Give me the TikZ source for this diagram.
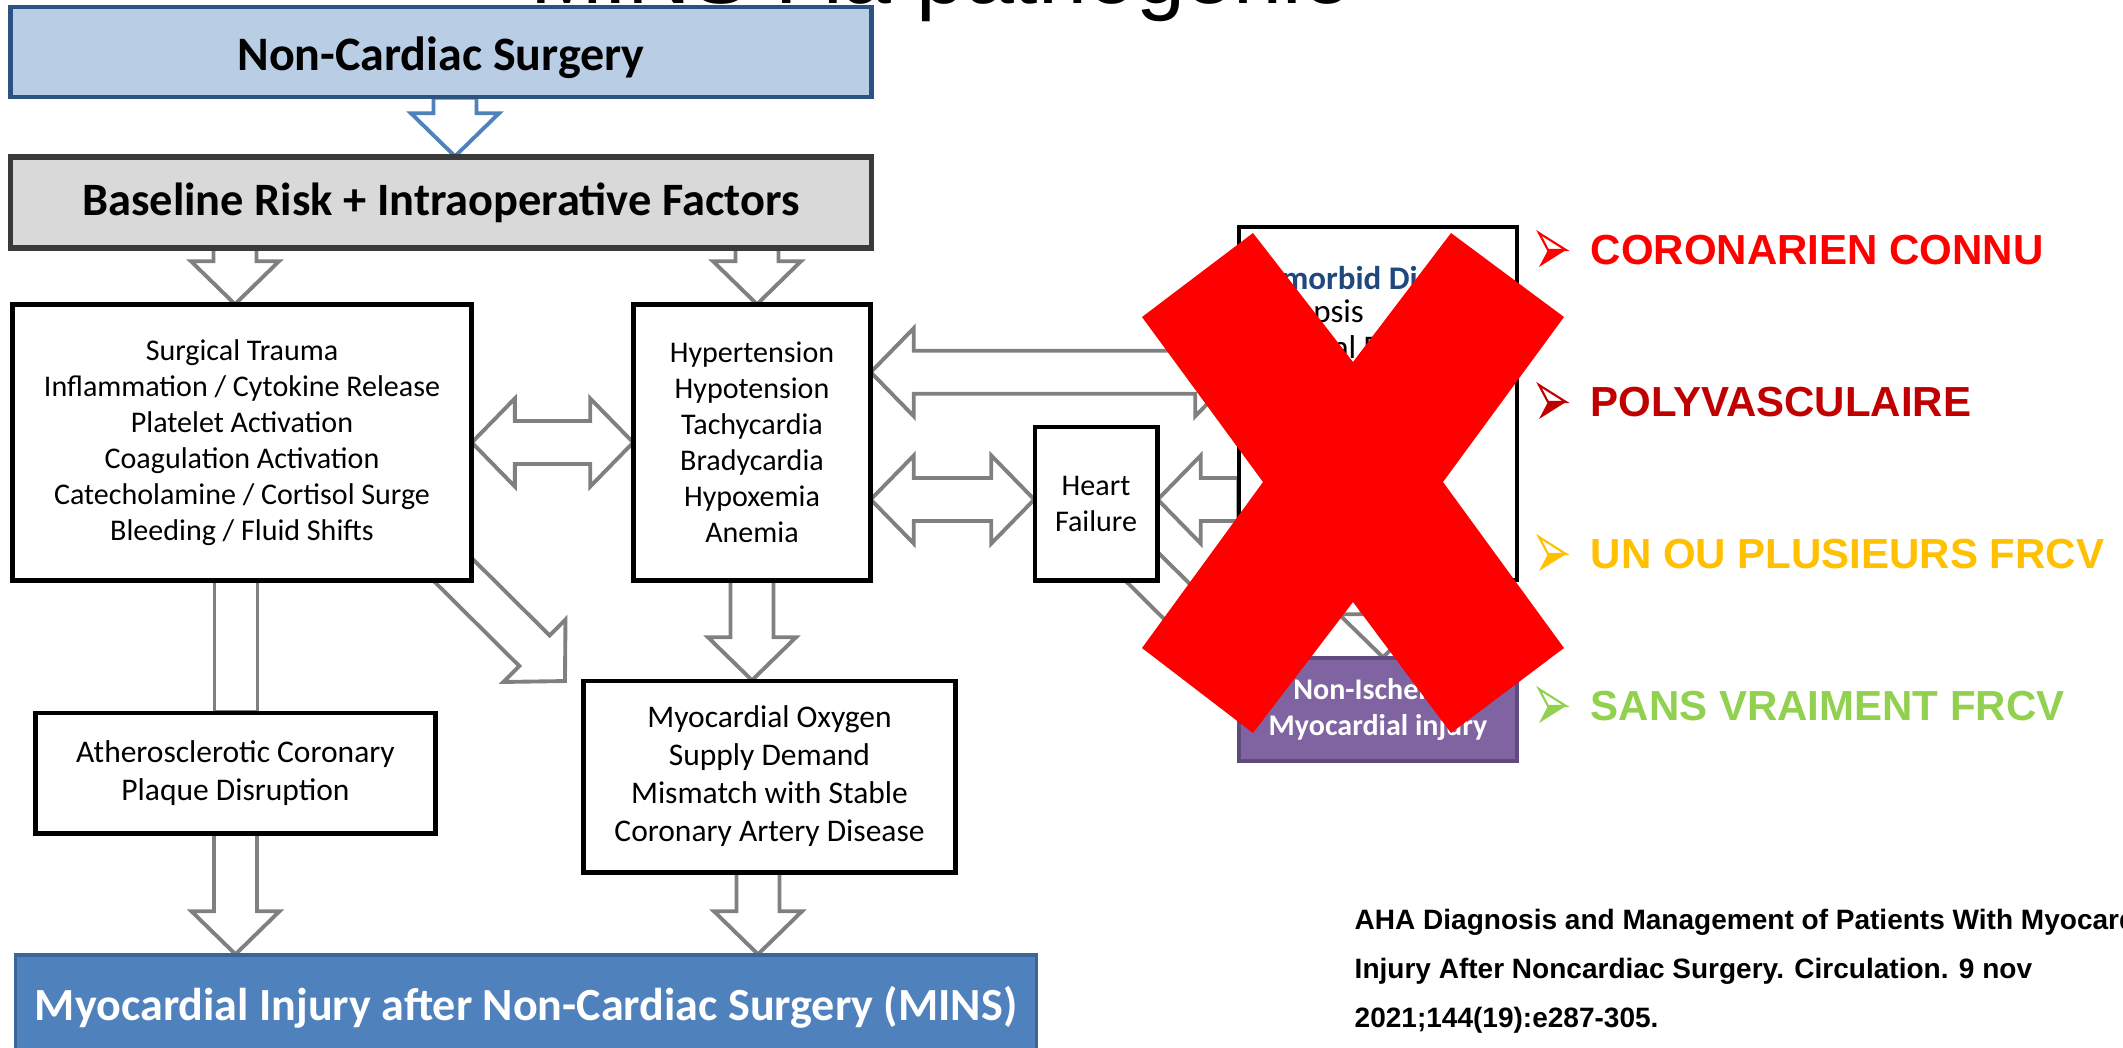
\documentclass[tikz,border=0pt]{standalone}
\usepackage{fontspec}
\setmainfont{Carlito}
\newfontfamily\arialf{Liberation Sans}
\usetikzlibrary{calc}

\definecolor{ncsfill}{HTML}{B9CDE5}
\definecolor{ncsdraw}{HTML}{2C5283}
\definecolor{basefill}{HTML}{D9D9D9}
\definecolor{basedraw}{HTML}{3A3A3A}
\definecolor{arrgray}{HTML}{808080}
\definecolor{arrblue}{HTML}{4F81BD}
\definecolor{minsfill}{HTML}{4F81BD}
\definecolor{minsdraw}{HTML}{3C6699}
\definecolor{purpfill}{HTML}{8064A2}
\definecolor{purpdraw}{HTML}{5E4A7C}
\definecolor{comhead}{HTML}{1F497D}
\definecolor{xred}{HTML}{FF0000}
\definecolor{lred}{HTML}{FF0000}
\definecolor{ldred}{HTML}{C00000}
\definecolor{lgold}{HTML}{FFC000}
\definecolor{lgreen}{HTML}{92D050}

\newcommand\bsw{6.12pt}
\newcommand\bhw{12.52pt}
\newcommand\bhl{12.23pt}

\newcommand\getvecx[2]{%
  \path let \p1=#1, \p2=#2 in \pgfextra{%
    \pgfmathsetmacro\gvtmpA{atan2(\y2-\y1,\x2-\x1)}%
    \pgfmathsetmacro\gvtmpL{veclen(\x2-\x1,\y2-\y1)}%
    \xdef\gvA{\gvtmpA}\xdef\gvL{\gvtmpL}%
    \xdef\gvX{\x1}\xdef\gvY{\y1}};}

\newcommand\blkarrow[3][]{%
  \getvecx{#2}{#3}%
  \draw[#1, shift={(\gvX,\gvY)}, rotate=\gvA]
    (0pt,\bsw) -- (\gvL pt-\bhl,\bsw) -- (\gvL pt-\bhl,\bhw) -- (\gvL pt,0pt)
    -- (\gvL pt-\bhl,-\bhw) -- (\gvL pt-\bhl,-\bsw) -- (0pt,-\bsw) -- cycle;}

\newcommand\dblkarrow[3][]{%
  \getvecx{#2}{#3}%
  \draw[#1, shift={(\gvX,\gvY)}, rotate=\gvA]
    (0pt,0pt) -- (\bhl,\bhw) -- (\bhl,\bsw) -- (\gvL pt-\bhl,\bsw) -- (\gvL pt-\bhl,\bhw)
    -- (\gvL pt,0pt) -- (\gvL pt-\bhl,-\bhw) -- (\gvL pt-\bhl,-\bsw) -- (\bhl,-\bsw)
    -- (\bhl,-\bhw) -- cycle;}

\newcommand\blkshaft[3][]{%
  \getvecx{#2}{#3}%
  \draw[#1, shift={(\gvX,\gvY)}, rotate=\gvA]
    (0pt,\bsw) -- (\gvL pt,\bsw) -- (\gvL pt,-\bsw) -- (0pt,-\bsw) -- cycle;}

\newcommand\listbullet[3]{%
  \begin{scope}[shift={(#1,#2)}]
    \filldraw[fill=white, draw=#3, line width=0.6pt, line join=miter] (-13,-17) -- (14,0) -- (-4,0) -- cycle;
    \fill[#3] (-4,0) -- (14,0) -- (-13,17) -- cycle;
  \end{scope}}

\tikzset{
  boxbase/.style={draw=black, line width=1.4pt, fill=white, inner sep=0pt, align=center},
  topbox/.style={boxbase, font=\fontsize{8.54pt}{10.24pt}\selectfont},
  lowbox/.style={boxbase, font=\fontsize{8.96pt}{10.81pt}\selectfont},
  bluebox/.style={draw=ncsdraw, line width=1.3pt, fill=ncsfill, inner sep=0pt, font=\bfseries\fontsize{13.66pt}{16pt}\selectfont},
  graybox/.style={draw=basedraw, line width=1.5pt, fill=basefill, inner sep=0pt, font=\bfseries\fontsize{13.2pt}{16pt}\selectfont},
  minsbox/.style={draw=minsdraw, line width=1pt, fill=minsfill, text=white, inner sep=0pt, font=\bfseries\fontsize{13.1pt}{16pt}\selectfont},
  purpbox/.style={draw=purpdraw, line width=1pt, fill=purpfill, text=white, inner sep=0pt, align=center, font=\bfseries\fontsize{8.54pt}{10.5pt}\selectfont},
  comtxt/.style={inner sep=0pt, font=\fontsize{9.39pt}{10.24pt}\selectfont},
  garr/.style={draw=arrgray, line width=1.1pt, fill=white, line join=miter},
  barr/.style={draw=arrblue, line width=1.1pt, fill=white, line join=miter},
  listtxt/.style={anchor=west, inner sep=0pt, font=\arialf\bfseries\fontsize{11.95pt}{14pt}\selectfont},
  reftxt/.style={anchor=base west, inner sep=0pt, font=\arialf\bfseries\fontsize{7.97pt}{9pt}\selectfont},
}

\begin{document}
\begin{tikzpicture}[x=0.01cm,y=-0.01cm]
\useasboundingbox (0,0) rectangle (2123,1047);
\fill[white] (0,0) rectangle (2123,1047);

% cut-off title
\node[anchor=base east, inner sep=0pt, font=\arialf\fontsize{25pt}{30pt}\selectfont] (title) at (1352,3) {MINS : la pathogénie};

% anchor nodes for the boxes (drawn later)
\path
  node[minimum width=8.6cm, minimum height=0.9cm, inner sep=0pt] (ncs) at (441,52) {}
  node[minimum width=8.6cm, minimum height=0.91cm, inner sep=0pt] (base) at (441,202.5) {}
  node[minimum width=4.58cm, minimum height=2.75cm, inner sep=0pt] (lbox) at (242,442.5) {}
  node[minimum width=2.36cm, minimum height=2.75cm, inner sep=0pt] (mbox) at (752,442.5) {}
  node[minimum width=1.22cm, minimum height=1.53cm, inner sep=0pt] (heart) at (1096,503.5) {}
  node[minimum width=2.78cm, minimum height=3.53cm, inner sep=0pt] (comorbid) at (1378,403.5) {}
  node[minimum width=2.78cm, minimum height=1.03cm, inner sep=0pt] (purple) at (1378,709.5) {}
  node[minimum width=3.99cm, minimum height=1.20cm, inner sep=0pt] (athero) at (235.5,773) {}
  node[minimum width=3.71cm, minimum height=1.91cm, inner sep=0pt] (o2) at (769.5,776.5) {}
  node[minimum width=10.2cm, minimum height=1.05cm, inner sep=0pt] (mins) at (526,1007.5) {};

% arrows
\blkarrow[barr]{($(ncs.south)+(14,0)$)}{($(base.north)+(14,0)$)}
\blkarrow[garr]{($(base.south -| lbox.north)+(-7,0)$)}{($(lbox.north)+(-7,0)$)}
\blkarrow[garr]{($(base.south -| mbox.north)+(5,0)$)}{($(mbox.north)+(5,0)$)}
\dblkarrow[garr]{(lbox.east)}{(mbox.west)}
\dblkarrow[garr]{($(mbox.north east)+(0,68)$)}{($(comorbid.north west)+(0,146)$)}
\dblkarrow[garr]{($(mbox.east |- heart.west)+(0,-4)$)}{($(heart.west)+(0,-4)$)}
\blkarrow[garr]{($(comorbid.west |- heart.east)+(0,-4)$)}{($(heart.east)+(0,-4)$)}
\blkshaft[garr]{($(lbox.south)+(-6,0)$)}{($(athero.north)+(0.5,0)$)}
\blkarrow[garr]{(athero.south)}{(athero.south |- mins.north)}
\blkarrow[garr]{(mbox.south)}{(mbox.south |- o2.north)}
\blkarrow[garr]{($(o2.south)+(-11.5,0)$)}{($(o2.south |- mins.north)+(-11.5,0)$)}
\blkarrow[garr]{($(lbox.south east)+(-41,-33)$)}{($(o2.north west)+(-18,1)$)}
\blkarrow[garr]{($(heart.south east)+(-37,-35)$)}{($(purple.north west)+(-3,2)$)}
\blkarrow[garr]{($(comorbid.south)+(5,0)$)}{($(purple.north)+(5,0)$)}

% visible boxes
\node[bluebox, minimum width=8.6cm, minimum height=0.9cm, text height=13pt, text depth=2.7pt] at (ncs) {Non-Cardiac Surgery};
\node[graybox, minimum width=8.6cm, minimum height=0.91cm] at (base) {Baseline Risk + Intraoperative Factors};
\node[topbox, minimum width=4.58cm, minimum height=2.75cm] at (lbox) {Surgical Trauma\\Inflammation / Cytokine Release\\Platelet Activation\\Coagulation Activation\\Catecholamine / Cortisol Surge\\Bleeding / Fluid Shifts};
\node[topbox, minimum width=2.36cm, minimum height=2.75cm] at (mbox) {Hypertension\\Hypotension\\Tachycardia\\Bradycardia\\Hypoxemia\\Anemia};
\node[topbox, minimum width=1.22cm, minimum height=1.53cm] at (heart) {Heart\\Failure};
\node[boxbase, line width=1.2pt, minimum width=2.78cm, minimum height=3.53cm] at (comorbid) {};
\node[comtxt, anchor=base, text=comhead, font=\bfseries\fontsize{9.39pt}{10.24pt}\selectfont] (chead) at (1370,289) {Comorbid Disease};
\node[comtxt, anchor=base west] (csep) at (1281,322) {Sepsis};
\node[comtxt, anchor=base west] (cren) at (1281,358) {Renal Failure};
\node[purpbox, minimum width=2.78cm, minimum height=1.03cm] at (purple) {Non-Ischemic\\Myocardial injury};
\node[lowbox, minimum width=3.99cm, minimum height=1.20cm] at (athero) {Atherosclerotic Coronary\\Plaque Disruption};
\node[lowbox, minimum width=3.71cm, minimum height=1.91cm] at (o2) {Myocardial Oxygen\\Supply Demand\\Mismatch with Stable\\Coronary Artery Disease};
\node[minsbox, minimum width=10.2cm, minimum height=1.05cm] at (mins) {Myocardial Injury after Non-Cardiac Surgery (MINS)};

% big red cross
\fill[xred] (1253,233) -- (1353,362) -- (1451,233) -- (1564,317) -- (1443,482) -- (1564,648)
  -- (1451,733) -- (1353,602) -- (1253,733) -- (1142,648) -- (1263,482) -- (1142,317) -- cycle;

% list
\listbullet{1552}{250}{lred}
\listbullet{1552}{402}{ldred}
\listbullet{1552}{554}{lgold}
\listbullet{1552}{706}{lgreen}
\node[listtxt, text=lred] (l1) at (1590,250) {CORONARIEN CONNU};
\node[listtxt, text=ldred] (l2) at (1590,402) {POLYVASCULAIRE};
\node[listtxt, text=lgold] (l3) at (1590,554) {UN OU PLUSIEURS FRCV};
\node[listtxt, text=lgreen] (l4) at (1590,706) {SANS VRAIMENT FRCV};

% reference
\node[reftxt] (ref1) at (1354,929) {AHA Diagnosis and Management of Patients With Myocardial};
\node[reftxt] (ref2) at (1354,978) {Injury After Noncardiac Surgery. Circulation. 9 nov};
\node[reftxt] (ref3) at (1354,1027) {2021;144(19):e287-305.};
\end{tikzpicture}
\end{document}
